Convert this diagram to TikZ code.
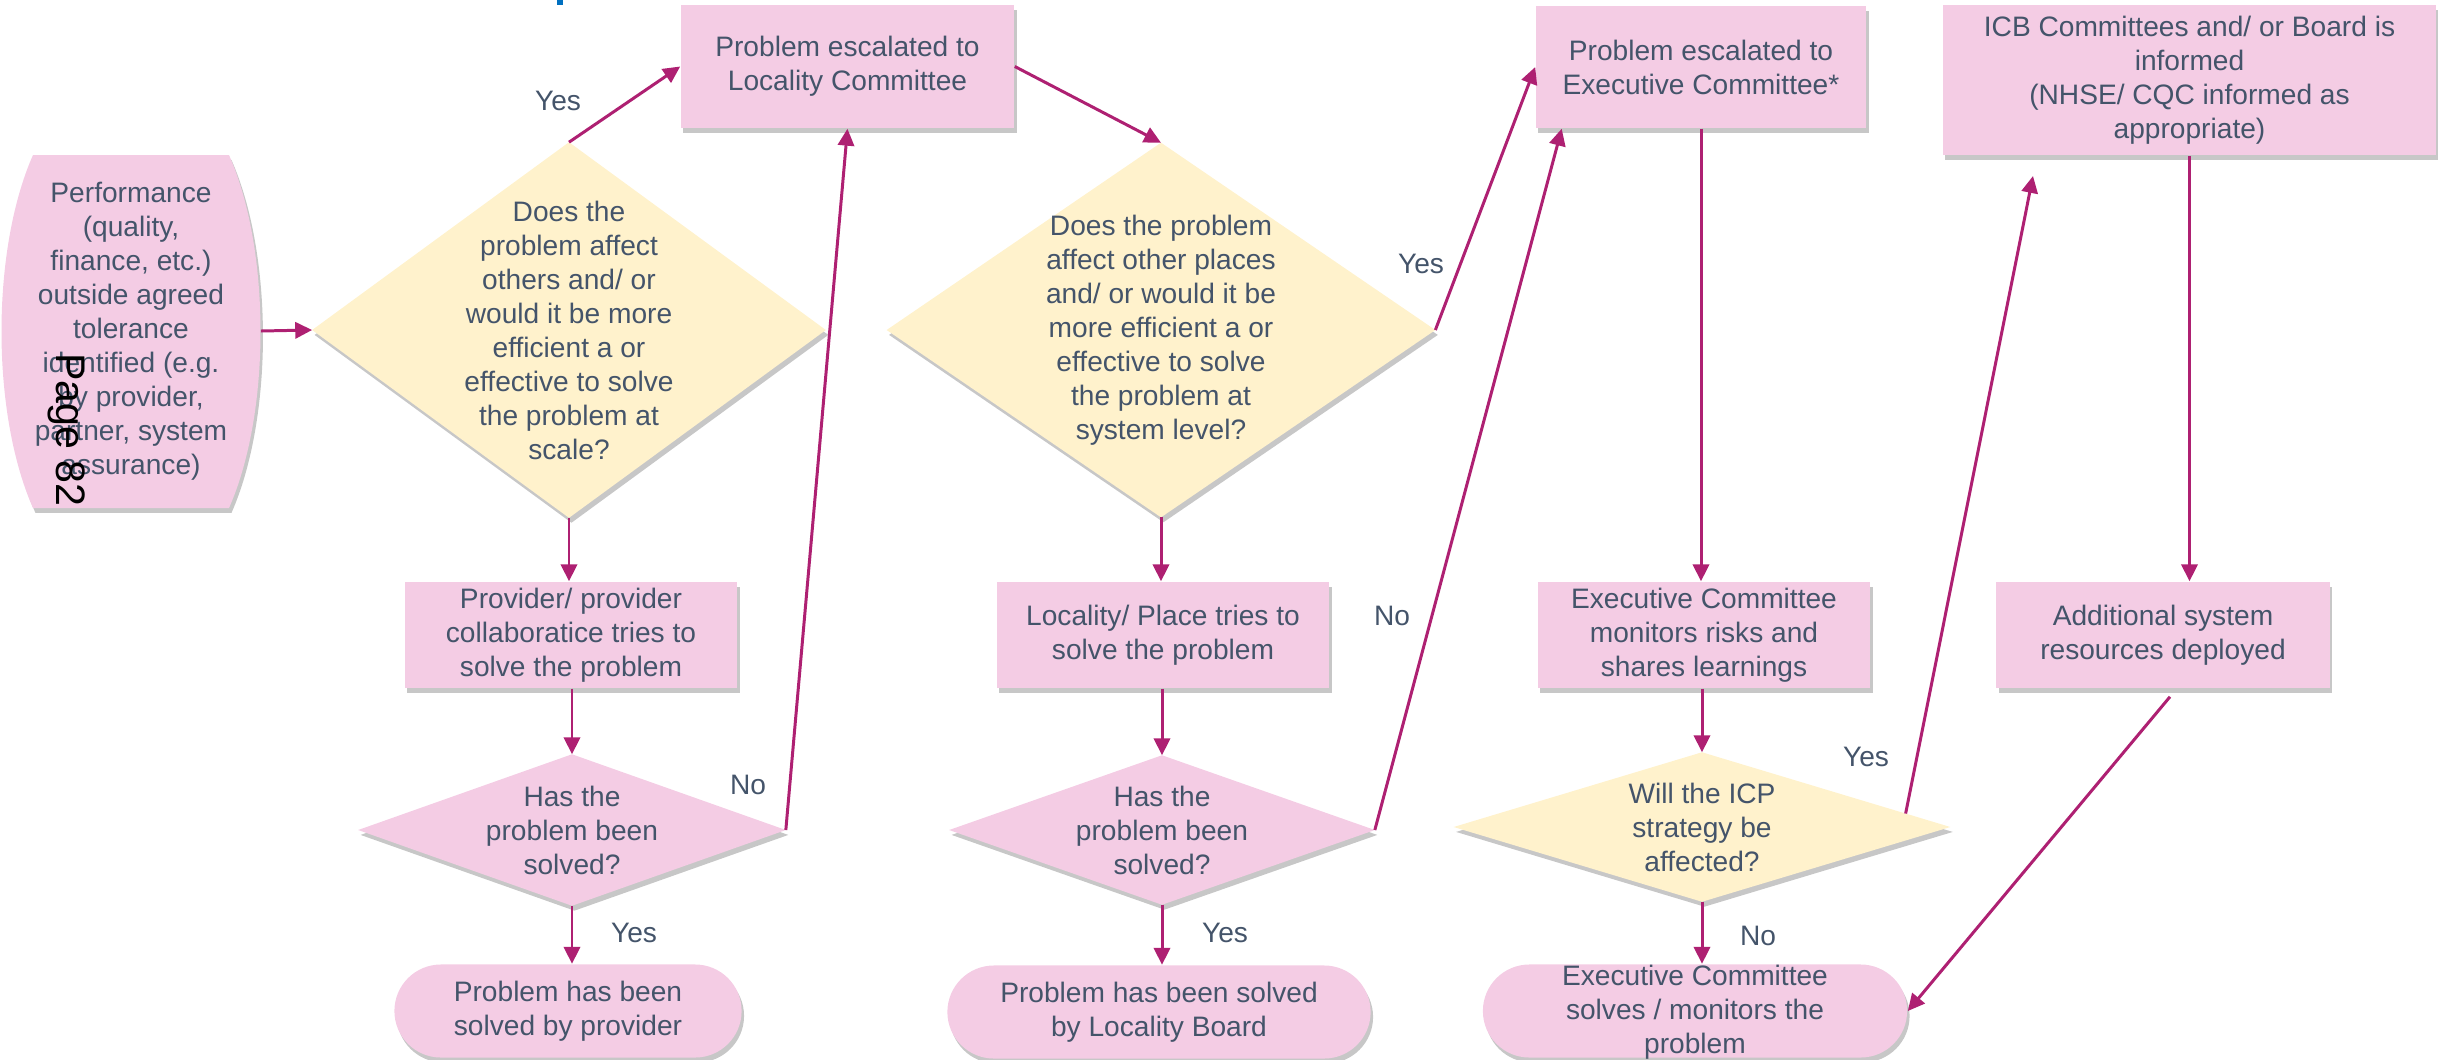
\documentclass[tikz,border=0pt]{standalone}
\usepackage{fontspec}
\setmainfont{Liberation Sans}
\usetikzlibrary{shadows,arrows.meta,backgrounds,calc}
\definecolor{pinkfill}{RGB}{244,204,228}
\definecolor{yellowfill}{RGB}{255,242,204}
\definecolor{txt}{RGB}{68,84,106}
\definecolor{arr}{RGB}{174,32,114}
\definecolor{titleblue}{RGB}{0,112,192}
\begin{document}
\begin{tikzpicture}[x=0.01cm,y=-0.01cm,
  every node/.style={font=\fontsize{8pt}{9.67pt}\selectfont, text=txt, inner sep=0pt, align=center},
  shd/.style={drop shadow={shadow xshift=0.7pt, shadow yshift=-1.4pt, fill=black, opacity=0.22}},
  box/.style={rectangle, fill=pinkfill, shd},
  term/.style={rectangle, rounded corners=0.465cm, fill=pinkfill, minimum height=0.93cm, shd},
  dia/.style={rectangle},
  conn/.style={draw=arr, line width=0.85pt, -{Triangle[length=4.8pt,width=4.6pt]}}
]
\useasboundingbox (0,0) rectangle (2438,1060);

% cut-off title mark
\fill[titleblue] (557,0) rectangle (563,5);

% start node
\node[rectangle, minimum width=2.58cm, minimum height=3.53cm] (perf) at (131,331)
  {Performance\\(quality,\\finance, etc.)\\outside agreed\\tolerance\\identified (e.g.\\by provider,\\partner, system\\assurance)};

% boxes
\node[box, minimum width=3.33cm, minimum height=1.23cm] (loc) at (847.5,66.5) {Problem escalated to\\Locality Committee};
\node[box, minimum width=3.30cm, minimum height=1.22cm] (exec) at (1701,67) {Problem escalated to\\Executive Committee*};
\node[box, minimum width=4.93cm, minimum height=1.50cm] (icb) at (2189.5,80) {ICB Committees and/ or Board is\\informed\\(NHSE/ CQC informed as\\appropriate)};
\node[box, minimum width=3.32cm, minimum height=1.06cm] (prov) at (571,635) {Provider/ provider\\collaboratice tries to\\solve the problem};
\node[box, minimum width=3.32cm, minimum height=1.06cm] (locp) at (1163,635) {Locality/ Place tries to\\solve the problem};
\node[box, minimum width=3.32cm, minimum height=1.06cm] (monit) at (1704,635) {Executive Committee\\monitors risks and\\shares learnings};
\node[box, minimum width=3.33cm, minimum height=1.06cm] (addl) at (2163,635) {Additional system\\resources deployed};

% decision nodes (diamond drawn on background)
\node[dia, minimum width=5.12cm, minimum height=3.74cm] (d1) at (569,330)
  {Does the\\problem affect\\others and/ or\\would it be more\\efficient a or\\effective to solve\\the problem at\\scale?};
\node[dia, minimum width=4.26cm, minimum height=1.50cm] (d2) at (572,830) {Has the\\problem been\\solved?};
\node[dia, minimum width=5.47cm, minimum height=3.73cm] (d3) at (1161,330)
  {Does the problem\\affect other places\\and/ or would it be\\more efficient a or\\effective to solve\\the problem at\\system level?};
\node[dia, minimum width=4.24cm, minimum height=1.48cm] (d4) at (1162,830) {Has the\\problem been\\solved?};
\node[dia, minimum width=4.95cm, minimum height=1.48cm] (d5) at (1702,827) {Will the ICP\\strategy be\\affected?};

% terminals
\node[term, minimum width=3.47cm] (t1) at (568,1011) {Problem has been\\solved by provider};
\node[term, minimum width=4.23cm] (t2) at (1159,1012) {Problem has been solved\\by Locality Board};
\node[term, minimum width=4.24cm] (t3) at (1695,1011)
  {\smash{\raisebox{-2.6pt}{\begin{tabular}{@{}c@{}}Executive Committee\\solves / monitors the\\problem\end{tabular}}}};

\begin{pgfonlayer}{background}
  \fill[pinkfill, shd] (33,155) -- (229,155) .. controls (271,250) and (271,413) .. (229,508)
     -- (33,508) .. controls (-9,413) and (-9,250) .. (33,155) -- cycle;
  \fill[yellowfill, shd] (d1.west) -- (d1.north) -- (d1.east) -- (d1.south) -- cycle;
  \fill[pinkfill, shd] (d2.west) -- (d2.north) -- (d2.east) -- (d2.south) -- cycle;
  \fill[yellowfill, shd] (d3.west) -- (d3.north) -- (d3.east) -- (d3.south) -- cycle;
  \fill[pinkfill, shd] (d4.west) -- (d4.north) -- (d4.east) -- (d4.south) -- cycle;
  \fill[yellowfill, shd] (d5.west) -- (d5.north) -- (d5.east) -- (d5.south) -- cycle;
\end{pgfonlayer}

% page stamp
\node[rotate=-90, text=black, font=\fontsize{11.7pt}{14pt}\selectfont] (pg) at (67,430) {Page 82};

% connectors
\draw[conn] (perf.east) -- (d1.west);
\draw[conn] (d1.north) -- (loc.west);
\draw[conn] (d1.south) -- (d1.south |- prov.north);
\draw[conn] (d2.north |- prov.south) -- (d2.north);
\draw[conn] (d2.south) -- (d2.south |- t1.north);
\draw[conn] (d2.east) -- (loc.south);
\draw[conn] (loc.east) -- (d3.north);
\draw[conn] (d3.south) -- (d3.south |- locp.north);
\draw[conn] (d4.north |- locp.south) -- (d4.north);
\draw[conn] (d4.south) -- (d4.south |- t2.north);
\draw[conn] (d3.east) -- (exec.west);
\draw[conn] (d4.east) -- ($(exec.south west)!0.08!(exec.south east)$);
\draw[conn] (exec.south) -- (exec.south |- monit.north);
\draw[conn] (d5.north |- monit.south) -- (d5.north);
\draw[conn] (d5.south) -- (d5.south |- t3.north);
\coordinate (icbin) at (2033,176);
\draw[conn] ($(d5.north)!0.82!(d5.east)$) -- (icbin);
\draw[conn] (icb.south) -- (icb.south |- addl.north);
\draw[conn] ($(addl.south)+(7,8)$) -- (t3.east);

% labels
\node (y1) at (558,101) {Yes};
\node (y2) at (634,933) {Yes};
\node (n1) at (748,785) {No};
\node (y3) at (1421,264) {Yes};
\node (n2) at (1392,616) {No};
\node (y4) at (1225,933) {Yes};
\node (y5) at (1866,757) {Yes};
\node (n3) at (1758,936) {No};
\end{tikzpicture}
\end{document}
